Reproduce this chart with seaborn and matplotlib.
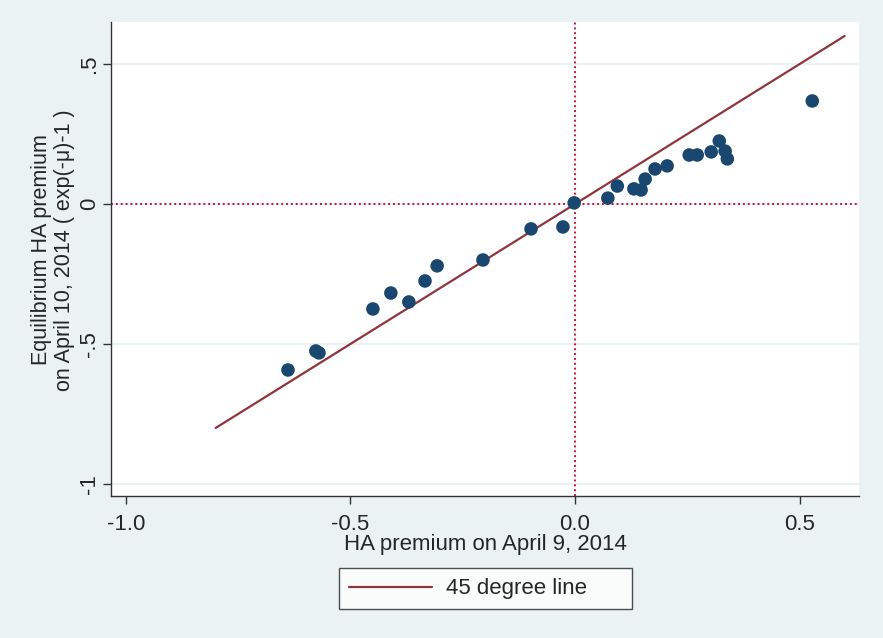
import numpy as np
import pandas as pd
import seaborn as sns
import matplotlib.pyplot as plt

# premium on April 9 vs equilibrium premium on April 10
x_apr9 = [-0.639, -0.577, -0.570, -0.450, -0.410, -0.370, -0.334, -0.307,
          -0.205, -0.098, -0.027, -0.002, 0.073, 0.094, 0.131, 0.147,
          0.156, 0.178, 0.205, 0.254, 0.272, 0.303, 0.321, 0.334, 0.339, 0.528]
y_apr10 = [-0.593, -0.525, -0.532, -0.375, -0.318, -0.350, -0.275, -0.221,
           -0.200, -0.089, -0.082, 0.004, 0.021, 0.064, 0.054, 0.050,
           0.089, 0.125, 0.136, 0.175, 0.175, 0.186, 0.225, 0.189, 0.161, 0.368]
line_x = [-0.8, 0.6]

x_ticks = [-1.0, -0.5, 0.0, 0.5]
x_ticklabels = ["-1.0", "-0.5", "0.0", "0.5"]
y_ticks = [-1, -0.5, 0, 0.5]
y_ticklabels = ["-1", "-.5", "0", ".5"]

df = pd.DataFrame({"x": x_apr9, "y": y_apr10})

sns.set_style("white")
plt.rcParams["font.family"] = ["Liberation Sans", "DejaVu Sans"]
fs = 16

bg = "#EAF2F3"
fig = plt.figure(figsize=(8.83, 6.38), dpi=100, facecolor=bg)
ax = fig.add_axes([0.1257, 0.2226, 0.8471, 0.7429])
ax.set_facecolor("white")

for yt in y_ticks:
    ax.axhline(yt, color=bg, lw=1.6, zorder=0)

ax.axhline(0, color="#c8143c", lw=1.4, ls=(0, (1, 1.5)), zorder=1)
ax.axvline(0, color="#c8143c", lw=1.4, ls=(0, (1, 1.5)), zorder=1)

ax.plot(line_x, line_x, color="#90353b", lw=1.6, zorder=2, label="45 degree line")
sns.scatterplot(data=df, x="x", y="y", ax=ax, color="#1a476f", s=95,
                edgecolor="none", zorder=3, legend=False)

ax.set_xlim(-1.033, 0.632)
ax.set_ylim(-1.043, 0.65)
ax.set_xticks(x_ticks)
ax.set_xticklabels(x_ticklabels, fontsize=fs)
ax.set_yticks(y_ticks)
ax.set_yticklabels(y_ticklabels, fontsize=fs, rotation=90, va="center")
ax.tick_params(axis="both", direction="out", length=6, width=1, color="#333333",
               left=True, bottom=True)
ax.tick_params(axis="x", pad=7)
ax.tick_params(axis="y", pad=2)

for side in ["top", "right"]:
    ax.spines[side].set_visible(False)
for side in ["left", "bottom"]:
    ax.spines[side].set_color("#333333")
    ax.spines[side].set_linewidth(1)

ax.set_xlabel("HA premium on April 9, 2014", fontsize=fs, labelpad=-1)
ax.set_ylabel("Equilibrium HA premium\non April 10, 2014 ( exp(-\u03bc)-1 )",
              fontsize=15.5, labelpad=3, linespacing=1.12)
ax.yaxis.label.set_y(0.519)

leg = ax.legend(loc="center", bbox_to_anchor=(0.3048, -0.2405, 0.3917, 0.0886),
                mode="expand", borderaxespad=0, frameon=True,
                fancybox=False, fontsize=fs, handlelength=3.75,
                borderpad=0.45, handletextpad=0.6)
leg.get_frame().set_edgecolor("#222222")
leg.get_frame().set_linewidth(1)

fig.savefig("out.png", dpi=100, facecolor=bg)
